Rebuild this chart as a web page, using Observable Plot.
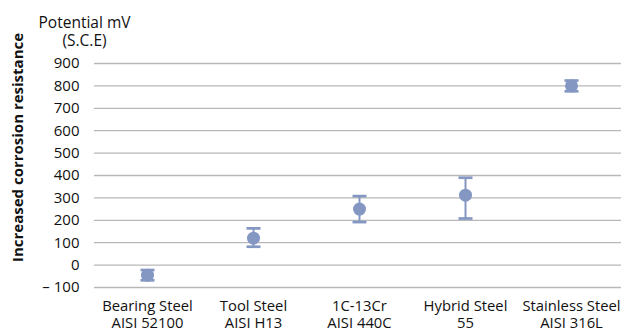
<!DOCTYPE html>
<html>
<head>
<meta charset="utf-8">
<script src="https://cdn.jsdelivr.net/npm/d3@7"></script>
<script src="https://cdn.jsdelivr.net/npm/@observablehq/plot@0.6"></script>
<style>
  html, body { margin: 0; padding: 0; background: #fff; }
  svg { display: block; }
</style>
</head>
<body>
<div id="chart"></div>
<script>
const categories = ["Bearing Steel", "Tool Steel", "1C-13Cr", "Hybrid Steel", "Stainless Steel"];
const grades = ["AISI 52100", "AISI H13", "AISI 440C", "55", "AISI 316L"];
const meanValues = [-45, 120, 250, 312, 800];
const lowValues = [-68, 82, 192, 208, 776];
const highValues = [-22, 164, 308, 390, 824];
const yTicks = [-100, 0, 100, 200, 300, 400, 500, 600, 700, 800, 900];

const data = categories.map((c, i) => ({
  cat: c, grade: grades[i], mean: meanValues[i], low: lowValues[i], high: highValues[i]
}));

const color = "#8497c3";
const font = "Open Sans, sans-serif";

const capSymbol = {
  draw(ctx, size) {
    ctx.moveTo(-7, 0);
    ctx.lineTo(7, 0);
  }
};

const fmtY = d => d < 0 ? "\u2013 " + Math.abs(d) : String(d);

const chart = Plot.plot({
  width: 621,
  height: 329,
  marginLeft: 94,
  marginRight: -3,
  marginTop: 63,
  marginBottom: 42,
  style: { fontFamily: font, background: "#fff", color: "#111" },
  x: { type: "band", domain: categories, padding: 0 },
  y: { domain: [-100, 900] },
  marks: [
    Plot.ruleY(yTicks, { stroke: "#b8b8b8", strokeWidth: 1.3 }),
    Plot.axisY(yTicks, {
      tickSize: 0, tickPadding: 15, tickFormat: fmtY, fontSize: 15, label: null
    }),
    Plot.axisX({
      tickSize: 0, tickPadding: 11, fontSize: 14.8, lineHeight: 1.15, label: null,
      tickFormat: d => d + "\n" + grades[categories.indexOf(d)]
    }),
    Plot.ruleX(data, { x: "cat", y1: "low", y2: "high", stroke: color, strokeWidth: 2 }),
    Plot.dot(data, { x: "cat", y: "low", symbol: capSymbol, stroke: color, strokeWidth: 2.7, fill: "none", r: 7 }),
    Plot.dot(data, { x: "cat", y: "high", symbol: capSymbol, stroke: color, strokeWidth: 2.7, fill: "none", r: 7 }),
    Plot.dot(data, { x: "cat", y: "mean", r: 6.5, fill: color, stroke: "none" }),
    Plot.text(["Potential mV\n(S.C.E)"], {
      frameAnchor: "top-left", dx: -10, dy: -49, lineAnchor: "top",
      fontSize: 15.5, lineHeight: 1.18, textAnchor: "middle", fill: "#111"
    }),
    Plot.text(["Increased corrosion resistance"], {
      frameAnchor: "left", dx: -76, dy: -28, rotate: -90,
      fontSize: 15, fontWeight: "bold", textAnchor: "middle", fill: "#111"
    })
  ]
});
document.getElementById("chart").appendChild(chart);
</script>
</body>
</html>
